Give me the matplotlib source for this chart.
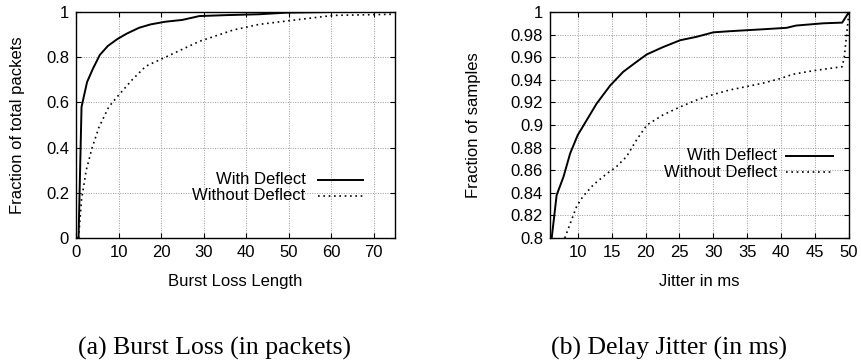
import matplotlib.pyplot as plt
from matplotlib.patches import Rectangle

plt.rcParams['font.family'] = ['Liberation Sans', 'DejaVu Sans']

# burst loss CDF
burst_x_with = [0, 0.6, 1.3, 2.6, 4.0, 5.6, 7.5, 9.7, 12.0, 14.8, 17.5, 21, 25, 29, 35, 43, 49.4, 60, 75]
burst_y_with = [0, 0, 0.58, 0.69, 0.75, 0.81, 0.85, 0.88, 0.905, 0.93, 0.945, 0.957, 0.965, 0.982, 0.986, 0.99, 0.997, 1.0, 1.0]
burst_x_without = [0.6, 1.3, 2.4, 3.8, 5.4, 7.7, 9.7, 13.2, 16.4, 21, 29, 36.9, 43, 49.4, 60.5, 74.6]
burst_y_without = [0, 0.17, 0.30, 0.40, 0.49, 0.58, 0.625, 0.70, 0.76, 0.80, 0.87, 0.92, 0.945, 0.96, 0.985, 0.99]

# delay jitter CDF
jitter_x_with = [6.17, 6.9, 7.9, 8.9, 10, 11.3, 12.8, 14.8, 16.7, 18.7, 20.2, 22.6, 25.1, 27.5, 30,
                 32.4, 37.3, 40.8, 42.2, 46.2, 49, 50]
jitter_y_with = [0.8, 0.838, 0.854, 0.875, 0.891, 0.904, 0.919, 0.935, 0.947, 0.956, 0.9625, 0.969,
                 0.975, 0.978, 0.982, 0.983, 0.9847, 0.986, 0.988, 0.990, 0.9906, 1.0]
jitter_x_without = [8.1, 9.85, 10.8, 12.3, 14.3, 15.7, 17.2, 18.7, 20.2, 22.6, 25.1, 27.5, 30, 32.4,
                    34.9, 37.3, 39.8, 41.8, 44.7, 49, 49.3, 50]
jitter_y_without = [0.8, 0.828, 0.837, 0.847, 0.857, 0.863, 0.872, 0.887, 0.9, 0.909, 0.916, 0.922,
                    0.927, 0.931, 0.934, 0.937, 0.941, 0.945, 0.948, 0.9516, 0.96, 1.0]

labels = ['With Deflect', 'Without Deflect']
dotted = (0, (1.0, 2.2))
FS = 12


def setup(ax, xticks, yticks, ytick_labels):
    ax.set_xticks(xticks)
    ax.set_yticks(yticks)
    ax.set_yticklabels(ytick_labels)
    ax.grid(True, color='#999999', linestyle=(0, (1, 1.5)), linewidth=0.7)
    ax.tick_params(direction='in', length=3.5, top=True, right=True, labelsize=FS, pad=5)
    for s in ax.spines.values():
        s.set_linewidth(1.0)


def key(ax, box, y1, y2, text_x, line_x0, line_x1):
    # opaque key area hides the grid behind it
    ax.add_patch(Rectangle(box[:2], box[2], box[3], transform=ax.transAxes,
                           facecolor='white', edgecolor='none', zorder=1.5))
    ax.text(text_x, y1, labels[0], transform=ax.transAxes, ha='right', va='center', fontsize=FS, zorder=3)
    ax.text(text_x, y2, labels[1], transform=ax.transAxes, ha='right', va='center', fontsize=FS, zorder=3)
    ax.plot([line_x0, line_x1], [y1, y1], transform=ax.transAxes, color='black', lw=1.4, zorder=3)
    ax.plot([line_x0, line_x1], [y2, y2], transform=ax.transAxes, color='black', lw=1.2,
            linestyle=dotted, zorder=3)


fig = plt.figure(figsize=(8.61, 3.62), dpi=100)
W, H = 861, 362

ax1 = fig.add_axes([76 / W, 1 - 238 / H, 319 / W, 226 / H])
ax1.plot(burst_x_with, burst_y_with, color='black', lw=1.4, zorder=2)
ax1.plot(burst_x_without, burst_y_without, color='black', lw=1.2, linestyle=dotted, zorder=2)
ax1.set_xlim(0, 75)
ax1.set_ylim(0, 1)
setup(ax1, range(0, 71, 10), [0, 0.2, 0.4, 0.6, 0.8, 1], ['0', '0.2', '0.4', '0.6', '0.8', '1'])
ax1.set_xlabel('Burst Loss Length', fontsize=FS)
ax1.set_ylabel('Fraction of total packets', fontsize=FS)
ax1.xaxis.set_label_coords(0.5, -0.16)
ax1.yaxis.set_label_coords(-0.16, 0.5)
key(ax1, (0.25, 0.14, 0.75, 0.20), 0.258, 0.186, 0.72, 0.76, 0.90)

ax2 = fig.add_axes([550 / W, 1 - 238 / H, 299 / W, 226 / H])
ax2.plot(jitter_x_with, jitter_y_with, color='black', lw=1.4, zorder=2)
ax2.plot(jitter_x_without, jitter_y_without, color='black', lw=1.2, linestyle=dotted, zorder=2)
ax2.set_xlim(5.92, 50)
ax2.set_ylim(0.8, 1)
yt = [0.8 + 0.02 * i for i in range(11)]
setup(ax2, range(10, 51, 5), yt, ['0.8', '0.82', '0.84', '0.86', '0.88', '0.9', '0.92',
                                   '0.94', '0.96', '0.98', '1'])
ax2.set_xlabel('Jitter in ms', fontsize=FS)
ax2.set_ylabel('Fraction of samples', fontsize=FS)
ax2.xaxis.set_label_coords(0.5, -0.16)
ax2.yaxis.set_label_coords(-0.231, 0.5)
key(ax2, (0.22, 0.25, 0.78, 0.19), 0.365, 0.29, 0.76, 0.79, 0.945)

fig.text(215 / W, 1 - 348 / H, '(a) Burst Loss (in packets)', ha='center', va='center',
         fontsize=18.5, family=['Liberation Serif', 'DejaVu Serif'])
fig.text(669 / W, 1 - 348 / H, '(b) Delay Jitter (in ms)', ha='center', va='center',
         fontsize=18.5, family=['Liberation Serif', 'DejaVu Serif'])

fig.savefig('out.png', dpi=100)
